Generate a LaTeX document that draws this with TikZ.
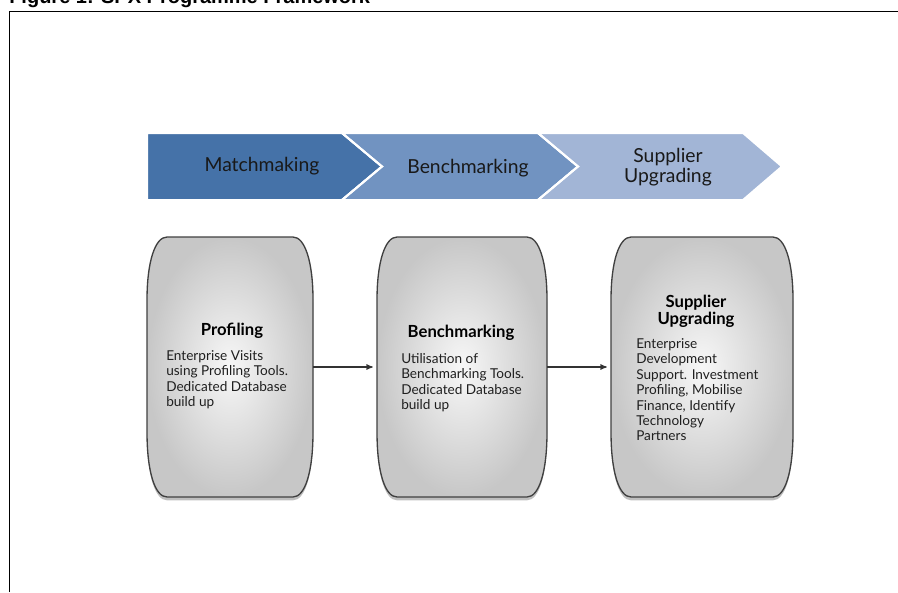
\documentclass[tikz,border=0pt]{standalone}
\usepackage{fontspec}
\setmainfont{Lato}
\newfontfamily\titlefont{Liberation Sans}
\usetikzlibrary{arrows,calc,positioning,shadows}
\definecolor{stepone}{RGB}{69,114,168}
\definecolor{steptwo}{RGB}{113,147,193}
\definecolor{stepthree}{RGB}{162,181,214}
\tikzset{
%Define standard arrow tip
>=stealth',
%Styles for the chevrons on top
chevron/.style={draw=white, line width=1.5pt},
chevron label/.style={font=\fontsize{14.5}{15}\selectfont, text=black!90, align=center},
%Styles for the grey barrels
barrel/.style={draw=black!75, line width=1pt, shading=radial,
  inner color=black!3, outer color=black!22,
  drop shadow={shadow xshift=0pt, shadow yshift=-2.5pt, opacity=.5}},
barrel head/.style={font=\bfseries\fontsize{12.5}{13}\selectfont, align=center},
barrel text/.style={font=\fontsize{10.2}{11.6}\selectfont, align=left,
  text=black!88, anchor=north west, inner sep=0pt},
flow/.style={->, thick, black!80, shorten >=3pt},
}
%Barrel: #1 name, #2 centre x, #3 half width
\newcommand\drawbarrel[3]{%
  \path[barrel] (#2-#3+20,237) -- (#2+#3-20,237)
    .. controls (#2+#3-8,237) and (#2+#3,262) .. (#2+#3,300)
    -- (#2+#3,432)
    .. controls (#2+#3,472) and (#2+#3-8,497) .. (#2+#3-20,497)
    -- (#2-#3+20,497)
    .. controls (#2-#3+8,497) and (#2-#3,472) .. (#2-#3,432)
    -- (#2-#3,300)
    .. controls (#2-#3,262) and (#2-#3+8,237) .. cycle;
  \node[minimum width={#3*1.5pt}, minimum height=195pt, inner sep=0pt] (#1) at (#2,367) {};
}

\begin{document}
\begin{tikzpicture}[x=0.75pt, y=-0.75pt]
    \useasboundingbox (0,0) rectangle (898,592);
    %Frame and caption
    \draw[line width=1.2pt] (9.5,592) -- (9.5,11.5) -- (898,11.5);
    \node[anchor=base west, inner sep=0pt, font=\titlefont\bfseries\fontsize{15}{18}\selectfont]
      (title) at (9,4) {Figure 1: SPX Programme Framework};

    %%%%%%%%%%%%%%%%%%%%%%
    %The three chevrons
    %%%%%%%%%%%%%%%%%%%%%%
    \fill[stepone, chevron] (147,133) -- (342,133) -- (382,166.5) -- (342,200) -- (147,200) -- cycle;
    \fill[steptwo, chevron] (342,133) -- (538,133) -- (578,166.5) -- (538,200) -- (342,200) -- (382,166.5) -- cycle;
    \fill[stepthree, chevron] (538,133) -- (743,133) -- (782,166.5) -- (743,200) -- (538,200) -- (578,166.5) -- cycle;
    \draw[white, line width=1.5pt] (342,133) -- (382,166.5) -- (342,200);
    \draw[white, line width=1.5pt] (538,133) -- (578,166.5) -- (538,200);

    \node[chevron label] (match) at (262,166) {Matchmaking};
    \node[chevron label] (benchstep) at (468,168) {Benchmarking};
    \node[chevron label] (upgradestep) at (668,167) {Supplier\\Upgrading};

    %%%%%%%%%%%%%%%%%%%%%%
    %The barrels
    %%%%%%%%%%%%%%%%%%%%%%
    \drawbarrel{prof}{230}{83}
    \drawbarrel{bench}{462}{85}
    \drawbarrel{upgrade}{702}{91}

    %%Profiling
    \node[barrel head] (profhead) at (232,331) {Profiling};
    \node[barrel text] (proftext) at (166,350)
      {Enterprise Visits\\using Profiling Tools.\\Dedicated Database\\build up};
    %%Benchmarking
    \node[barrel head] (benchhead) at (461,333) {Benchmarking};
    \node[barrel text] (benchtext) at (401,353)
      {Utilisation of\\Benchmarking Tools.\\Dedicated Database\\build up};
    %%Supplier upgrading
    \node[barrel head] (upgradehead) at (696,311) {Supplier\\Upgrading};
    \node[barrel text] (upgradetext) at (636,338)
      {Enterprise\\Development\\Support. Investment\\Profiling, Mobilise\\Finance, Identify\\Technology\\Partners};

    %Connections
    \draw[flow] (prof.east) -- (bench.west);
    \draw[flow] (bench.east) -- (upgrade.west);
\end{tikzpicture}
\end{document}
